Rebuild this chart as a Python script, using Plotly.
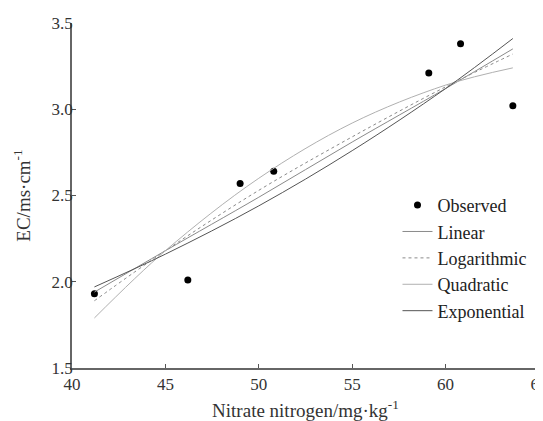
import plotly.graph_objects as go

obs_x = [41.2, 46.2, 49.0, 50.8, 59.1, 60.8, 63.6]
obs_y = [1.93, 2.01, 2.57, 2.64, 3.21, 3.38, 3.02]

# Fitted curves, values read at these x positions
fit_x = [41.2, 45, 50, 55, 60, 63.6]
linear_y = [1.94, 2.18, 2.49, 2.81, 3.12, 3.35]
log_y = [1.89, 2.18, 2.53, 2.84, 3.13, 3.32]
quad_y = [1.79, 2.18, 2.60, 2.92, 3.14, 3.24]
exp_y = [1.97, 2.16, 2.44, 2.76, 3.12, 3.41]

x_ticks = [40, 45, 50, 55, 60, 65]
y_ticks = [1.5, 2.0, 2.5, 3.0, 3.5]
y_ticklabels = ["1.5", "2.0", "2.5", "3.0", "3.5"]

FONT = "Liberation Serif"

fig = go.Figure()
fig.add_trace(go.Scatter(x=obs_x, y=obs_y, mode="markers", name="Observed",
                         marker=dict(color="black", size=7)))
fig.add_trace(go.Scatter(x=fit_x, y=linear_y, mode="lines", name="Linear",
                         line=dict(color="#8a8a8a", width=1, shape="spline")))
fig.add_trace(go.Scatter(x=fit_x, y=log_y, mode="lines", name="Logarithmic",
                         line=dict(color="#8a8a8a", width=1, dash="dot", shape="spline")))
fig.add_trace(go.Scatter(x=fit_x, y=quad_y, mode="lines", name="Quadratic",
                         line=dict(color="#b0b0b0", width=1, shape="spline")))
fig.add_trace(go.Scatter(x=fit_x, y=exp_y, mode="lines", name="Exponential",
                         line=dict(color="#555555", width=1, shape="spline")))

fig.update_layout(
    width=535, height=413,
    margin=dict(l=64, r=4, t=15, b=53),
    paper_bgcolor="white", plot_bgcolor="white",
    font=dict(family=FONT, size=17, color="#333333"),
    showlegend=True,
    legend=dict(x=0.697, y=0.525, xanchor="left", yanchor="top",
                bgcolor="rgba(0,0,0,0)", font=dict(size=18, color="#222222"),
                itemwidth=30),
    xaxis=dict(range=[40, 65], tickvals=x_ticks, ticks="inside", ticklen=4,
               tickcolor="#555555", showline=True, linecolor="#666666", linewidth=1.5,
               showgrid=False, zeroline=False, tickfont=dict(size=17),
               ticklabeloverflow="allow", automargin=False,
               title=dict(text="Nitrate nitrogen/mg·kg<sup>-1</sup>", font=dict(size=19), standoff=12)),
    yaxis=dict(range=[1.5, 3.5], tickvals=y_ticks, ticktext=y_ticklabels, ticks="inside",
               ticklen=4, tickcolor="#555555", showline=True, linecolor="#666666",
               linewidth=1.5, showgrid=False, zeroline=False, tickfont=dict(size=17),
               ticklabelstandoff=-6, automargin=False,
               title=dict(text="EC/ms·cm<sup>-1</sup>", font=dict(size=19, color="#333333"), standoff=16)),
)

fig.write_html("out.html")
